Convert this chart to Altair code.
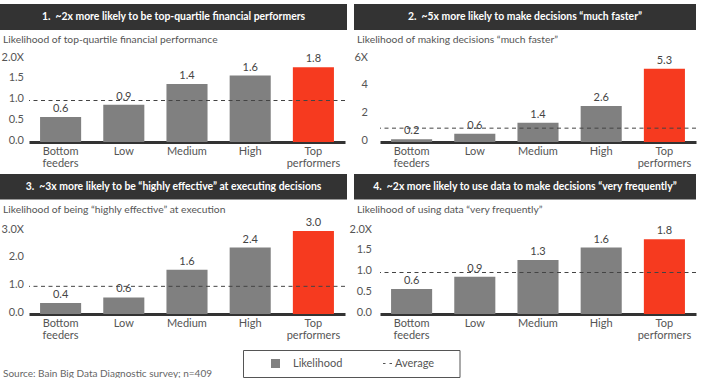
import altair as alt
import pandas as pd

# ---- data -------------------------------------------------------------
categories = ["Bottom feeders", "Low", "Medium", "High", "Top performers"]

financial = [0.6, 0.9, 1.4, 1.6, 1.8]
faster = [0.2, 0.6, 1.4, 2.6, 5.3]
effective = [0.4, 0.6, 1.6, 2.4, 3.0]
data_use = [0.6, 0.9, 1.3, 1.6, 1.8]

average = 1.0

headers = [
    "1.\u00a0 ~2x more likely to be top-quartile financial performers",
    "2.\u00a0 ~5x more likely to make decisions \u201cmuch faster\u201d",
    "3.\u00a0 ~3x more likely to be \u201chighly effective\u201d at executing decisions",
    "4.\u00a0 ~2x more likely to use data to make decisions \u201cvery frequently\u201d",
]
subtitles = [
    "Likelihood of top-quartile financial performance",
    "Likelihood of making decisions \u201cmuch faster\u201d",
    "Likelihood of being \u201chighly effective\u201d at execution",
    "Likelihood of using data \u201cvery frequently\u201d",
]
tick_values = [
    [0, 0.5, 1, 1.5, 2],
    [0, 2, 4, 6],
    [0, 1, 2, 3],
    [0, 0.5, 1, 1.5, 2],
]
tick_labels = [
    ["0.0", "0.5", "1.0", "1.5", "2.0X"],
    ["0", "2", "4", "6X"],
    ["0.0", "1.0", "2.0", "3.0X"],
    ["0.0", "0.5", "1.0", "1.5", "2.0X"],
]
legend_labels = ["Likelihood", "Average"]
source_note = "Source: Bain Big Data Diagnostic survey; n=409"

# ---- style ------------------------------------------------------------
FONT = "Lato"
DARK = "#333333"
GRAY = "#808080"
RED = "#f63a1f"
TEXT = "#555555"
W, H = 316, 83


def panel(values, header, subtitle, ticks, tlabels, label_pad, left_col, row):
    df = pd.DataFrame({"group": categories, "value": values})
    tick_df = pd.DataFrame({"value": ticks, "label": tlabels})
    one = pd.DataFrame({"average": [average]})
    top = ticks[-1]

    x = alt.X(
        "group:N",
        sort=categories,
        scale=alt.Scale(paddingInner=0.35, paddingOuter=0.175),
        axis=alt.Axis(
            title=None,
            labelAngle=0,
            labelExpr="split(datum.label, ' ')",
            ticks=False,
            domainColor=DARK,
            domainWidth=3,
            labelPadding=3,
            labelLineHeight=12,
            labelBaseline="top",
        ),
    )
    y = alt.Y("value:Q", scale=alt.Scale(domain=[0, top], nice=False), axis=None)

    bars = alt.Chart(df).mark_bar().encode(
        x=x,
        y=y,
        color=alt.condition(
            "datum.group == 'Top performers'", alt.value(RED), alt.value(GRAY)
        ),
    )
    labels = alt.Chart(df).mark_text(
        baseline="bottom", dy=-3, font=FONT, fontSize=11, color="#444444"
    ).encode(
        x=alt.X("group:N", sort=categories),
        y=alt.Y("value:Q", axis=None),
        text=alt.Text("value:Q", format=".1f"),
    )
    # value-axis labels, right aligned a few pixels left of the plot
    y_labels = alt.Chart(tick_df).mark_text(
        align="right", baseline="middle", dy=-1.5, font=FONT, fontSize=11, color=TEXT
    ).encode(
        x=alt.value(-label_pad),
        y=alt.Y("value:Q", axis=None),
        text="label:N",
    )
    avg_rule = alt.Chart(one).mark_rule(
        color="#444444", strokeDash=[4, 3.5], strokeWidth=1
    ).encode(y=alt.Y("average:Q", axis=None))

    # dark banner with the panel's headline, and the measure line below it
    hx0, hx1 = (-29, 318) if left_col else (-26, 316)
    hy0, hy1, sub_y = (-55, -29, -19) if row == 0 else (-57, -31.5, -21)
    banner = alt.Chart(one).mark_rect(color=DARK).encode(
        x=alt.value(hx0), x2=alt.value(hx1), y=alt.value(hy0), y2=alt.value(hy1)
    )
    banner_text = alt.Chart(one).mark_text(
        font=FONT, fontSize=10.4, fontWeight="bold", color="white", baseline="middle"
    ).encode(
        x=alt.value((hx0 + hx1) / 2),
        y=alt.value((hy0 + hy1) / 2),
        text=alt.value(header),
    )
    sub_text = alt.Chart(one).mark_text(
        font=FONT, fontSize=10.3, color=TEXT, align="left", baseline="middle"
    ).encode(x=alt.value(hx0 + 3), y=alt.value(sub_y), text=alt.value(subtitle))

    return alt.layer(
        bars, avg_rule, labels, y_labels, banner, banner_text, sub_text
    ).properties(width=W, height=H)


def legend_and_note(chart):
    one = pd.DataFrame({"k": [0]})
    box = alt.Chart(one).mark_rect(fill="white", stroke="#555555", strokeWidth=1).encode(
        x=alt.value(214.5), x2=alt.value(431), y=alt.value(119.5), y2=alt.value(146.5)
    )
    square = alt.Chart(one).mark_point(
        shape="square", filled=True, size=81, color=GRAY, opacity=1
    ).encode(x=alt.value(246.5), y=alt.value(132.5))
    lab1 = alt.Chart(one).mark_text(
        font=FONT, fontSize=11, color=TEXT, align="left", baseline="middle"
    ).encode(x=alt.value(264), y=alt.value(132.5), text=alt.value(legend_labels[0]))
    dash = alt.Chart(one).mark_rule(
        color="#555555", strokeDash=[2.5, 4], strokeWidth=1
    ).encode(x=alt.value(354), x2=alt.value(363), y=alt.value(132.5))
    lab2 = alt.Chart(one).mark_text(
        font=FONT, fontSize=11, color=TEXT, align="left", baseline="middle"
    ).encode(x=alt.value(366), y=alt.value(132.5), text=alt.value(legend_labels[1]))
    note = alt.Chart(one).mark_text(
        font=FONT, fontSize=10, color="#666666", align="left", baseline="middle"
    ).encode(x=alt.value(-26), y=alt.value(142.5), text=alt.value(source_note))
    return alt.layer(chart, box, square, lab1, dash, lab2, note)


p1 = panel(financial, headers[0], subtitles[0], tick_values[0], tick_labels[0], 5, True, 0)
p2 = panel(faster, headers[1], subtitles[1], tick_values[1], tick_labels[1], 12, False, 0)
p3 = legend_and_note(
    panel(effective, headers[2], subtitles[2], tick_values[2], tick_labels[2], 5, True, 1)
)
p4 = panel(data_use, headers[3], subtitles[3], tick_values[3], tick_labels[3], 8, False, 1)

chart = (
    alt.concat(p1, p2, p3, p4, columns=2, spacing={"row": 89, "column": 35}, bounds="flush")
    .properties(padding={"left": 0, "top": 4, "right": 0, "bottom": 0})
    .configure(background="white", font=FONT)
    .configure_view(strokeWidth=0)
    .configure_axis(labelFont=FONT, labelFontSize=11, labelColor=TEXT)
)

chart.save("out.html", embed_options={"renderer": "svg", "actions": False})
